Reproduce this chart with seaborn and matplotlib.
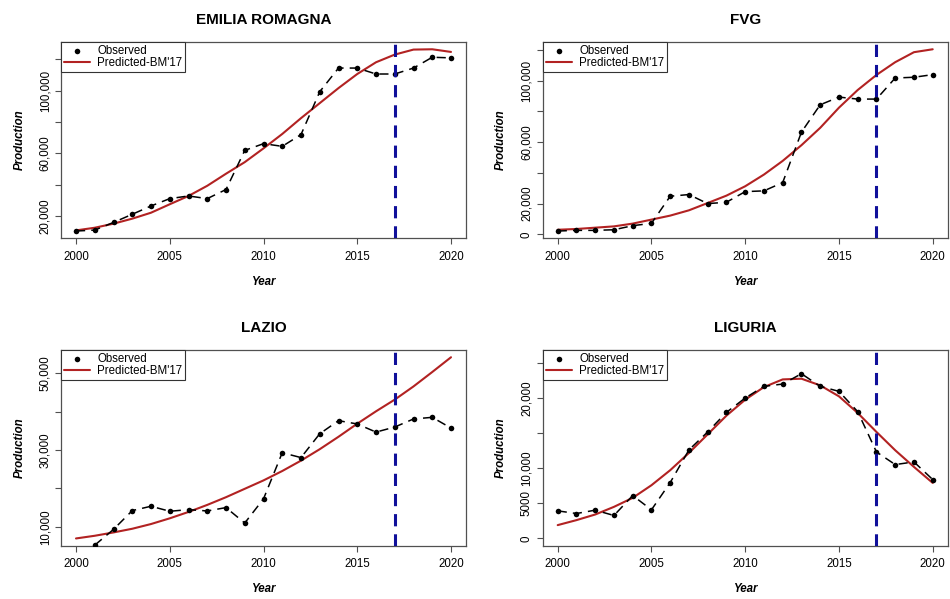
import numpy as np
import pandas as pd
import matplotlib
matplotlib.use("Agg")
import matplotlib.pyplot as plt
import seaborn as sns

# ---------------- data ----------------
years = list(range(2000, 2021))
regions = ["EMILIA ROMAGNA", "FVG", "LAZIO", "LIGURIA"]

emilia_obs = [10400, 11000, 15900, 21100, 26400, 31100, 32800, 31100, 36900, 61900,
              66200, 64500, 72000, 99400, 114500, 114500, 110700, 110700, 114500, 121400, 121000]
emilia_pred = [10800, 12500, 15100, 18300, 22100, 27500, 32800, 39300, 47000, 54400,
               63200, 72400, 82500, 92100, 101700, 110700, 118200, 123100, 126300, 126500, 124800]

fvg_obs = [2170, 2600, 2600, 3000, 5650, 7170, 24800, 25900, 20000, 20900,
           27800, 28300, 33700, 66500, 84300, 89300, 88000, 88000, 101700, 102200, 103900]
fvg_pred = [3000, 3500, 4350, 5200, 7000, 9600, 12200, 15650, 20400, 25200,
            31300, 38900, 47800, 58000, 69300, 82400, 93900, 103700, 112000, 118500, 120400]

lazio_obs = [np.nan, 5190, 9300, 14200, 15340, 14030, 14460, 14110, 14990, 10960,
             17260, 29300, 28030, 34250, 37660, 36800, 34680, 36000, 38100, 38530, 35730]
lazio_pred = [6940, 7640, 8510, 9470, 10700, 12190, 13850, 15690, 17700, 19890,
              22080, 24530, 27240, 30220, 33460, 36870, 40100, 43150, 46590, 50350, 54200]

liguria_obs = [3930, 3550, 4030, 3270, 6110, 4080, 7960, 12610, 15170, 17960,
               20000, 21660, 21990, 23460, 21660, 20950, 18060, 12320, 10520, 10900, 8390]
liguria_pred = [1900, 2610, 3410, 4500, 5780, 7580, 9720, 12180, 14830, 17490,
                19760, 21560, 22650, 22750, 21800, 20240, 17870, 15170, 12560, 10190, 7910]

observed = [emilia_obs, fvg_obs, lazio_obs, liguria_obs]
predicted = [emilia_pred, fvg_pred, lazio_pred, liguria_pred]

cut_year = 2017
x_ticks = [2000, 2005, 2010, 2015, 2020]

y_ticks = [
    [20000, 40000, 60000, 80000, 100000, 120000],
    [0, 20000, 40000, 60000, 80000, 100000, 120000],
    [10000, 20000, 30000, 40000, 50000],
    [0, 5000, 10000, 15000, 20000, 25000],
]
y_ticklabels = [
    ["20,000", "", "60,000", "", "100,000", ""],
    ["0", "20,000", "", "60,000", "", "100,000", ""],
    ["10,000", "", "30,000", "", "50,000"],
    ["0", "5000", "10,000", "", "20,000", ""],
]

# ---------------- style ----------------
sns.set_style("ticks")
plt.rcParams["font.family"] = ["Liberation Sans", "DejaVu Sans"]
plt.rcParams["text.color"] = "black"
plt.rcParams["axes.labelcolor"] = "black"

RED = "#B22222"
BLUE = "#10109A"
SPINE = "#505050"

fig = plt.figure(figsize=(9.5, 5.99), dpi=100)
W, H = 950.0, 599.0
boxes = [  # left, top, right, bottom in px
    (61, 42, 466, 238.3),
    (542.7, 42, 947.7, 238.3),
    (61, 350, 466, 545.7),
    (542.7, 350, 947.7, 545.7),
]


def r_range(lo, hi):
    d = (hi - lo) * 0.04
    return lo - d, hi + d


for i, name in enumerate(regions):
    l, t, r, b = boxes[i]
    ax = fig.add_axes([l / W, 1 - b / H, (r - l) / W, (b - t) / H])
    obs = np.array(observed[i], dtype=float)
    pred = np.array(predicted[i], dtype=float)
    df = pd.DataFrame({"Year": years, "obs": obs, "pred": pred})

    # base range for the y axis
    if name == "LAZIO":
        lo, hi = np.nanmin(pred), np.nanmax(pred)
    elif name == "LIGURIA":
        lo, hi = 0, 1.1 * np.nanmax(obs)
    else:
        allv = np.concatenate([obs[~np.isnan(obs)], pred])
        lo, hi = allv.min(), allv.max()

    sns.lineplot(data=df.dropna(), x="Year", y="obs", ax=ax, color="black",
                 linewidth=1.1, linestyle=(0, (6, 4)), zorder=3, legend=False)
    sns.scatterplot(data=df.dropna(), x="Year", y="obs", ax=ax, color="black",
                    s=16, edgecolor="black", linewidth=0, zorder=4, label="Observed")
    sns.lineplot(data=df, x="Year", y="pred", ax=ax, color=RED, linewidth=1.5,
                 zorder=2, label="Predicted-BM'17")
    ax.axvline(cut_year, color=BLUE, linewidth=2.2, linestyle=(0, (4, 2.6)), zorder=5)

    ax.set_xlim(*r_range(2000, 2020))
    ax.set_ylim(*r_range(lo, hi))
    ax.set_xticks(x_ticks)
    ax.set_xticklabels([str(v) for v in x_ticks])
    ax.set_yticks(y_ticks[i])
    ax.set_yticklabels(y_ticklabels[i], rotation=90, va="center")

    ax.tick_params(axis="both", direction="out", length=4.5, width=0.8,
                   color=SPINE, labelsize=8.3, labelcolor="black",
                   bottom=True, left=True, top=False, right=False)
    ax.tick_params(axis="x", pad=4.5)
    ax.tick_params(axis="y", pad=2.5)
    for s in ax.spines.values():
        s.set_visible(True)
        s.set_color(SPINE)
        s.set_linewidth(0.9)

    ax.set_title(name, fontsize=11, fontweight="bold", pad=13, color="black")
    ax.set_xlabel("Year", fontsize=8.3, fontweight="bold", fontstyle="italic",
                  labelpad=9.5, color="black")
    ax.set_ylabel("Production", fontsize=8.3, fontweight="bold", fontstyle="italic",
                  labelpad=10, color="black")

    handles, labels = ax.get_legend_handles_labels()
    leg = ax.legend(handles, labels, loc="upper left", borderaxespad=0,
                    fontsize=8.3, frameon=True, fancybox=False, framealpha=1,
                    edgecolor="#333333", borderpad=0.25, labelspacing=0.05,
                    handlelength=2.3, handletextpad=0.6)
    leg.get_frame().set_linewidth(0.8)
    for txt in leg.get_texts():
        txt.set_color("black")

fig.savefig("out.png", dpi=100)
